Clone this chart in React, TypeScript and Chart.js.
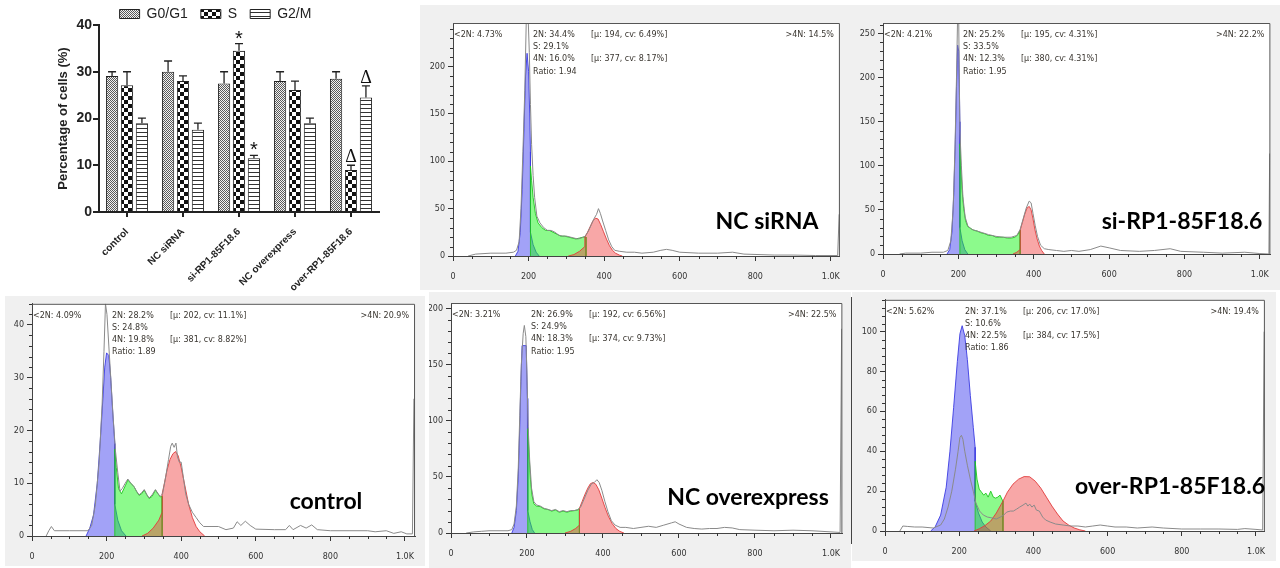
import { useEffect, useRef } from 'react';
import { Chart, registerables } from 'chart.js';

Chart.register(...registerables);

// ================= Bar chart data =================
const groupLabels = ['control', 'NC siRNA', 'si-RP1-85F18.6', 'NC overexpress', 'over-RP1-85F18.6'];
const seriesLabels = ['G0/G1', 'S', 'G2/M'];
const g0g1Values = [29.1, 30.0, 27.5, 28.0, 28.5];
const g0g1ErrTop = [30.0, 32.3, 30.0, 30.0, 30.0];
const sValues = [27.1, 28.0, 34.5, 26.1, 9.0];
const sErrTop = [30.0, 29.1, 36.0, 28.0, 10.0];
const g2mValues = [19.0, 17.6, 11.5, 19.0, 24.5];
const g2mErrTop = [20.1, 19.0, 12.1, 20.1, 27.0];
const barYMax = 40;
const barYStep = 10;
const sigGroup = [2, 2, 4, 4];
const sigSeries = [1, 2, 1, 2];
const sigText = ['*', '*', 'Δ', 'Δ'];

// ================= Histogram data ([channel, count]) =================
const histXTicks = [0, 200, 400, 600, 800, 1000];

// NC siRNA
const ncSiRaw = [[40,0],[60,2],[100,3],[140,3],[160,4],[168,6],[175,15],[180,50],[185,110],[190,175],[194,250],[198,262],[202,215],[205,160],[208,118],[212,85],[216,62],[222,42],[230,35],[240,30],[250,27],[260,27],[270,25],[280,22],[290,21],[300,21],[310,20],[320,19],[330,18],[340,19],[350,21],[358,26],[366,33],[374,40],[380,44],[385,50],[390,45],[396,37],[404,27],[412,17],[420,10],[428,6],[440,5],[460,4],[480,4],[500,3],[530,4],[550,6],[565,7],[580,6],[600,4],[650,3],[700,3],[740,4],[770,2],[850,1],[900,1],[960,0.5],[1018,0.5],[1022,44]];
const ncSiG1 = [[165,0],[172,5],[178,25],[183,70],[188,135],[192,190],[196,214],[200,195],[203,150],[205,110],[205,25],[212,12],[220,4],[228,0]];
const ncSiS = [[205,0],[205,95],[208,80],[212,62],[218,45],[225,35],[235,30],[245,27],[255,27],[265,25],[275,23],[285,21],[295,21],[305,20],[315,19],[325,18],[335,19],[345,20],[352,20],[352,0]];
const ncSiG2 = [[305,0],[320,1.5],[335,5],[349,10],[349,20],[356,25],[363,31],[370,37],[377,40],[384,39],[391,33],[398,26],[406,18],[414,11],[422,6],[430,3],[440,1],[448,0]];
const ncSiStats = ['<2N: 4.73%', '2N: 34.4%', 'S: 29.1%', '4N: 16.0%', 'Ratio: 1.94', '[µ: 194, cv: 6.49%]', '[µ: 377, cv: 8.17%]', '>4N: 14.5%'];

// si-RP1-85F18.6
const siRaw = [[44,0],[60,1],[100,1],[130,2],[160,2],[172,4],[180,15],[186,50],[191,120],[195,200],[198,270],[201,262],[204,140],[208,100],[212,65],[218,42],[225,32],[235,28],[250,26],[265,24],[280,22],[300,20],[320,19],[340,19],[355,21],[364,28],[372,40],[380,52],[388,60],[393,58],[398,46],[404,32],[410,20],[418,10],[428,6],[440,5],[460,4],[480,3],[500,4],[520,3],[550,5],[578,9],[600,7],[630,4],[680,3],[720,4],[762,6],[790,3],[850,2],[900,1],[960,2],[1000,0.5],[1024,0],[1026,114]];
const siG1 = [[170,0],[177,5],[183,25],[188,70],[192,130],[195,190],[198,237],[201,230],[204,150],[204,30],[210,15],[217,5],[225,0]];
const siS = [[204,0],[204,125],[207,95],[210,72],[214,52],[219,38],[225,31],[233,29],[240,27],[250,26],[260,24],[270,23],[280,21],[290,21],[300,19],[310,19],[320,19],[330,18],[340,18],[350,19],[358,22],[364,27],[364,0]];
const siG2 = [[345,0],[355,2],[364,5],[364,27],[370,36],[376,45],[382,52],[388,54],[393,50],[398,40],[403,28],[409,17],[415,9],[421,4],[428,0]];
const siStats = ['<2N: 4.21%', '2N: 25.2%', 'S: 33.5%', '4N: 12.3%', 'Ratio: 1.95', '[µ: 195, cv: 4.31%]', '[µ: 380, cv: 4.31%]', '>4N: 22.2%'];

// control
const ctrlRaw = [[38,0],[45,1],[52,1.8],[60,1],[100,1],[150,1],[160,2],[170,6],[180,14],[188,25],[193,35],[197,44],[201,42],[206,36],[212,29],[218,22],[224,16],[230,12],[236,8.5],[242,9],[250,10],[257,10.8],[265,10],[274,9.3],[280,8.5],[287,7.8],[294,8.2],[301,8.8],[308,7.8],[314,7.2],[322,7.8],[331,8.8],[338,8],[344,7.5],[350,8],[358,11],[366,14.5],[372,17],[376,17.6],[381,16.8],[386,17.6],[390,15],[395,14],[400,14],[406,11],[412,8],[420,6],[430,4.5],[440,3.5],[450,2.5],[460,1.8],[480,1.8],[500,1.8],[520,1.2],[540,1.5],[550,2.7],[560,2],[572,2.8],[585,2],[600,1.3],[650,1.2],[680,1.2],[690,2],[700,1.2],[720,2],[735,1.5],[750,2.1],[765,1.2],[800,1],[850,1],[900,1],[920,0.8],[950,1],[970,0.5],[990,0.8],[1005,0.4],[1020,0.4],[1024,26]];
const ctrlG1 = [[145,0],[155,1.5],[165,4],[175,10],[183,18],[190,26],[195,32],[200,34.7],[206,34.2],[211,30],[216,24],[222,17.5],[222,6],[230,3],[240,1],[252,0]];
const ctrlS = [[222,0],[222,16.5],[226,13],[232,9],[240,8],[250,9.5],[257,10.6],[265,10],[274,9.3],[280,8.5],[287,7.7],[294,8],[301,8.7],[308,7.8],[314,7.1],[322,7.5],[331,8.7],[338,8],[344,7.4],[349,7.5],[349,0]];
const ctrlG2 = [[295,0],[310,0.5],[325,1.5],[340,3],[349,4.5],[349,8],[355,10],[362,12.5],[370,14.5],[378,15.6],[385,16],[392,15.2],[400,13],[410,9.5],[420,6],[430,3.5],[440,1.8],[450,0.8],[463,0]];
const ctrlStats = ['<2N: 4.09%', '2N: 28.2%', 'S: 24.8%', '4N: 19.8%', 'Ratio: 1.89', '[µ: 202, cv: 11.1%]', '[µ: 381, cv: 8.82%]', '>4N: 20.9%'];

// NC overexpress
const ncOvRaw = [[40,0],[60,1],[80,1.5],[100,2],[150,2],[160,3],[166,8],[172,24],[177,58],[181,105],[185,150],[190,178],[193,185],[197,175],[200,140],[203,95],[207,65],[212,40],[218,28],[225,25],[235,24],[245,22],[255,21],[265,20],[275,21],[285,19],[295,20],[305,19],[315,20],[325,20],[335,21],[341,23],[350,30],[360,38],[370,44],[377,45],[384,47.5],[390,45],[397,38],[405,28],[413,19],[422,11],[432,7],[445,5],[460,5],[480,4],[500,5],[520,6],[540,5],[560,7],[580,9],[590,10],[600,8],[620,5],[640,4],[660,3.5],[680,4],[700,4],[720,5],[740,4.5],[760,3],[800,2.5],[850,2],[900,2.5],[950,2],[1000,1],[1024,0.5],[1028,182]];
const ncOvG1 = [[160,0],[166,5],[172,20],[177,50],[181,95],[184,135],[187,167],[198,167],[201,120],[202,93],[202,20],[208,10],[214,3],[220,0]];
const ncOvS = [[202,0],[202,93],[205,72],[209,48],[213,34],[218,26],[225,24],[235,23.5],[245,21.5],[255,21],[265,19.5],[275,20.5],[285,18.5],[295,19.5],[305,18.5],[315,19.5],[325,20],[333,20.5],[338,22],[338,0]];
const ncOvG2 = [[300,0],[315,1.5],[328,4],[338,7],[338,22],[345,28],[352,34],[360,40],[367,44],[374,45],[381,43.5],[389,38.5],[397,31],[405,23],[414,15],[424,8.5],[434,4],[444,1.5],[455,0]];
const ncOvStats = ['<2N: 3.21%', '2N: 26.9%', 'S: 24.9%', '4N: 18.3%', 'Ratio: 1.95', '[µ: 192, cv: 6.56%]', '[µ: 374, cv: 9.73%]', '>4N: 22.5%'];

// over-RP1-85F18.6
const overRaw = [[40,0],[48,2.5],[60,2.3],[80,2],[100,2],[130,1.5],[150,3],[160,6],[170,12],[180,20],[190,31],[197,40],[202,47],[206,48],[210,46],[215,40],[222,33],[230,26],[238,20],[245,14],[255,10],[265,8],[276,7],[290,6.5],[300,6],[311,7],[320,8],[328,9.5],[338,10],[346,10],[355,11],[363,12],[372,13],[380,14],[385,12.5],[390,13.5],[396,12],[402,13],[408,10.5],[416,10],[425,7],[433,5.5],[445,4.5],[460,3.5],[480,3],[500,2.5],[520,2.5],[540,2],[560,2.5],[580,3],[600,2.5],[620,2],[650,2],[680,1.5],[720,2],[750,1.5],[800,1],[850,1],[900,1],[950,0.8],[970,1.2],[1000,0.8],[1018,0.5],[1022,100]];
const overG1 = [[123,0],[135,2],[150,8],[165,22],[175,40],[185,62],[195,85],[202,99],[208,103],[215,98],[222,86],[230,68],[238,52],[243,42],[243,15],[252,9],[262,4.5],[272,2],[285,0]];
const overS = [[243,0],[243,35],[248,26],[254,21],[260,19.5],[266,18],[272,19],[278,17],[285,20],[292,17],[298,16.5],[304,17],[310,18],[315,16],[318,15],[318,0]];
const overG2 = [[240,0],[255,1.2],[270,2.8],[285,5],[300,9],[318,15],[330,19.5],[345,23.5],[360,26],[375,27.3],[390,27.2],[405,25],[420,21.5],[435,17],[450,12.5],[465,8.5],[480,5],[495,3],[510,1.5],[525,0.6],[540,0]];
const overStats = ['<2N: 5.62%', '2N: 37.1%', 'S: 10.6%', '4N: 22.5%', 'Ratio: 1.86', '[µ: 206, cv: 17.0%]', '[µ: 384, cv: 17.5%]', '>4N: 19.4%'];

// ================= Panel layout (positions only) =================
const panels: any[] = [
  { key: 'ncsi', name: 'NC siRNA', raw: ncSiRaw, g1: ncSiG1, s: ncSiS, g2: ncSiG2, stats: ncSiStats,
    box: [420, 5, 431, 285], dx: 0, plot: [453, 23, 844, 256], xMax: 1024, yMax: 246, yStep: 50, yMinor: 10, labelC: [767, 222] },
  { key: 'si', name: 'si-RP1-85F18.6', raw: siRaw, g1: siG1, s: siS, g2: siG2, stats: siStats,
    box: [851, 5, 429, 285], dx: 0, plot: [883, 23, 1274, 254], xMax: 1028, yMax: 262, yStep: 50, yMinor: 10, labelC: [1182, 222] },
  { key: 'ctrl', name: 'control', raw: ctrlRaw, g1: ctrlG1, s: ctrlS, g2: ctrlG2, stats: ctrlStats,
    box: [5, 296, 420, 270], dx: 0, plot: [32, 303, 423, 536], xMax: 1027, yMax: 44, yStep: 10, yMinor: 2, labelC: [326, 502] },
  { key: 'ncov', name: 'NC overexpress', raw: ncOvRaw, g1: ncOvG1, s: ncOvS, g2: ncOvG2, stats: ncOvStats,
    box: [429, 292, 422, 276], dx: -8, plot: [451, 303, 850, 533], xMax: 1030, yMax: 205, yStep: 50, yMinor: 10, labelC: [748, 498] },
  { key: 'over', name: 'over-RP1-85F18.6', raw: overRaw, g1: overG1, s: overS, g2: overG2, stats: overStats,
    box: [852, 292, 424, 269], dx: 0, plot: [885, 298, 1275, 531], xMax: 1024, yMax: 116, yStep: 20, yMinor: 4, labelC: [1170, 487] },
];

function makePattern(kind: string): any {
  const c = document.createElement('canvas');
  const ctx = c.getContext('2d')!;
  if (kind === 'fine') {
    c.width = 2; c.height = 2;
    ctx.fillStyle = '#f2f2f2'; ctx.fillRect(0, 0, 2, 2);
    ctx.fillStyle = '#5a5a5a'; ctx.fillRect(0, 0, 1, 1); ctx.fillRect(1, 1, 1, 1);
  } else if (kind === 'checker') {
    c.width = 8; c.height = 8;
    ctx.fillStyle = '#ffffff'; ctx.fillRect(0, 0, 8, 8);
    ctx.fillStyle = '#111111'; ctx.fillRect(0, 0, 4, 4); ctx.fillRect(4, 4, 4, 4);
  } else {
    c.width = 4; c.height = 4;
    ctx.fillStyle = '#ffffff'; ctx.fillRect(0, 0, 4, 4);
    ctx.fillStyle = '#333333'; ctx.fillRect(0, 0, 4, 1);
  }
  return ctx.createPattern(c, 'repeat');
}

function BarPanel() {
  const ref = useRef<HTMLCanvasElement>(null);
  useEffect(() => {
    const pats = [makePattern('fine'), makePattern('checker'), makePattern('stripe')];
    const values = [g0g1Values, sValues, g2mValues];
    const errTops = [g0g1ErrTop, sErrTop, g2mErrTop];
    const fam = 'Liberation Sans';
    const legendFit = {
      id: 'legendFit',
      afterInit(chart: any) {
        const lg = chart.legend;
        if (lg) {
          const f = lg.fit.bind(lg);
          lg.fit = () => { f(); lg.height = 31; };
        }
      },
    };
    const errBars = {
      id: 'errBars',
      afterDatasetsDraw(chart: any) {
        const ctx = chart.ctx;
        const ys = chart.scales.y;
        ctx.save();
        ctx.strokeStyle = '#222';
        ctx.lineWidth = 1.3;
        errTops.forEach((tops, di) => {
          chart.getDatasetMeta(di).data.forEach((el: any, i: number) => {
            const ye = ys.getPixelForValue(tops[i]);
            ctx.beginPath();
            ctx.moveTo(el.x, el.y);
            ctx.lineTo(el.x, ye);
            ctx.moveTo(el.x - 4, ye);
            ctx.lineTo(el.x + 4, ye);
            ctx.stroke();
          });
        });
        ctx.fillStyle = '#111';
        ctx.textAlign = 'center';
        ctx.textBaseline = 'alphabetic';
        sigText.forEach((t, k) => {
          const el = chart.getDatasetMeta(sigSeries[k]).data[sigGroup[k]];
          const ye = ys.getPixelForValue(errTops[sigSeries[k]][sigGroup[k]]);
          if (t === '*') {
            ctx.font = '20px "Liberation Sans"';
            ctx.fillText(t, el.x, ye + 1);
          } else {
            ctx.font = '18px "Liberation Serif"';
            ctx.fillText(t, el.x, ye - 3);
          }
        });
        ctx.restore();
      },
    };
    const chart = new Chart(ref.current!, {
      type: 'bar',
      data: {
        labels: groupLabels,
        datasets: seriesLabels.map((l, i) => ({
          label: l, data: values[i], backgroundColor: pats[i], borderColor: '#222', borderWidth: 1,
          categoryPercentage: 0.8, barPercentage: 0.82,
        })),
      },
      options: {
        animation: false, responsive: false, events: [], devicePixelRatio: 1,
        layout: { padding: { top: -6, left: 52, right: 61, bottom: 0 } },
        plugins: {
          legend: { position: 'top', labels: { boxWidth: 20, boxHeight: 9, padding: 13, color: '#222', font: { family: fam, size: 14 } } },
          tooltip: { enabled: false },
        },
        scales: {
          x: {
            grid: { display: true, drawOnChartArea: false, offset: false, tickLength: 5, color: '#222', lineWidth: 2 },
            border: { display: true, color: '#222', width: 2 },
            ticks: { font: { family: fam, size: 10, weight: 'bold' }, color: '#222', minRotation: 45, maxRotation: 45, autoSkip: false, padding: 9 },
            afterFit: (s: any) => { s.height = 80; },
          },
          y: {
            min: 0, max: barYMax,
            grid: { display: true, drawOnChartArea: false, tickLength: 6, color: '#222', lineWidth: 2 },
            border: { display: true, color: '#222', width: 2 },
            ticks: { stepSize: barYStep, font: { family: fam, size: 14, weight: 'bold' }, color: '#222', padding: 1 },
            title: { display: true, text: 'Percentage of cells (%)', color: '#222', font: { family: fam, size: 13, weight: 'bold' } },
            afterFit: (s: any) => { s.width = 47; },
          },
        },
      } as any,
      plugins: [legendFit, errBars],
    } as any);
    return () => chart.destroy();
  }, []);
  return <canvas ref={ref} width={440} height={292} style={{ position: 'absolute', left: 0, top: 0 }} />;
}

function HistPanel({ p }: { p: any }) {
  const ref = useRef<HTMLCanvasElement>(null);
  const canvasLeft = p.box[0] + p.dx;
  const canvasW = p.box[2] - p.dx;
  const canvasH = p.box[3];
  useEffect(() => {
    const [L, T, R, B] = p.plot;
    const yAxisW = L - canvasLeft;
    const padTop = T - p.box[1];
    const padRight = canvasLeft + canvasW - R;
    const xAxisH = p.box[1] + p.box[3] - B;
    const pts = (a: number[][]) => a.map(([x, y]) => ({ x, y }));
    const tickFont = { family: 'DejaVu Sans', size: 8 };
    const deco = {
      id: 'deco',
      beforeDraw(chart: any) {
        const { ctx, chartArea: a } = chart;
        ctx.save();
        ctx.fillStyle = '#ffffff';
        ctx.fillRect(a.left, a.top, a.right - a.left, a.bottom - a.top);
        ctx.restore();
      },
      afterDraw(chart: any) {
        const { ctx, chartArea: a, scales } = chart;
        const xs = scales.x, ys = scales.y;
        ctx.save();
        ctx.strokeStyle = '#555';
        ctx.lineWidth = 1;
        ctx.beginPath();
        ctx.moveTo(a.left, a.top + 0.5);
        ctx.lineTo(a.right - 0.5, a.top + 0.5);
        ctx.lineTo(a.right - 0.5, a.bottom);
        ctx.stroke();
        ctx.strokeStyle = '#333';
        ctx.beginPath();
        for (let v = 0; v <= p.xMax; v += 50) {
          if (v % 200 === 0) continue;
          const px = Math.round(xs.getPixelForValue(v)) + 0.5;
          ctx.moveTo(px, a.bottom);
          ctx.lineTo(px, a.bottom + 3);
        }
        for (let v = 0; v <= p.yMax; v += p.yMinor) {
          if (v % p.yStep === 0) continue;
          const py = Math.round(ys.getPixelForValue(v)) + 0.5;
          ctx.moveTo(a.left - 3, py);
          ctx.lineTo(a.left, py);
        }
        ctx.stroke();
        // statistics text
        const st = p.stats;
        ctx.font = '8px "DejaVu Sans"';
        ctx.fillStyle = '#3a3630';
        ctx.textBaseline = 'middle';
        ctx.textAlign = 'left';
        const y0 = a.top + 12;
        const dy = 12.2;
        ctx.fillText(st[0], a.left + 1, y0);
        for (let i = 0; i < 4; i++) ctx.fillText(st[1 + i], a.left + 80, y0 + i * dy);
        ctx.fillText(st[5], a.left + 138, y0);
        ctx.fillText(st[6], a.left + 138, y0 + 2 * dy);
        ctx.textAlign = 'right';
        ctx.fillText(st[7], a.right - 6, y0);
        // sample name
        ctx.font = 'bold 23px Lato';
        ctx.fillStyle = '#000';
        ctx.textAlign = 'center';
        ctx.fillText(p.name, p.labelC[0] - canvasLeft, p.labelC[1] - p.box[1]);
        ctx.restore();
      },
    };
    const chart = new Chart(ref.current!, {
      type: 'line',
      data: {
        datasets: [
          { label: 'raw', data: pts(p.raw), borderColor: '#8a8a8a', borderWidth: 1, pointRadius: 0, fill: false, order: 0 },
          { label: 'G2', data: pts(p.g2), borderColor: 'rgba(225,60,60,0.9)', backgroundColor: 'rgba(240,60,60,0.45)', borderWidth: 1, pointRadius: 0, fill: 'origin', order: 1 },
          { label: 'S', data: pts(p.s), borderColor: 'rgba(30,200,30,0.9)', backgroundColor: 'rgba(25,245,25,0.5)', borderWidth: 1, pointRadius: 0, fill: 'origin', order: 2 },
          { label: 'G1', data: pts(p.g1), borderColor: 'rgba(60,60,225,0.9)', backgroundColor: 'rgba(85,85,240,0.55)', borderWidth: 1, pointRadius: 0, fill: 'origin', order: 3 },
        ],
      },
      options: {
        animation: false, responsive: false, events: [], devicePixelRatio: 1,
        layout: { padding: { top: padTop, right: padRight, left: 0, bottom: 0 } },
        plugins: { legend: { display: false }, tooltip: { enabled: false } },
        elements: { line: { tension: 0 } },
        scales: {
          x: {
            type: 'linear', min: 0, max: p.xMax,
            grid: { display: true, drawOnChartArea: false, tickLength: 5, color: '#333' },
            border: { display: true, color: '#444' },
            afterBuildTicks: (s: any) => { s.ticks = histXTicks.map((v) => ({ value: v })); },
            ticks: { autoSkip: false, maxRotation: 0, font: tickFont, color: '#333', padding: 11,
              callback: (v: any) => (v === 1000 ? '1.0K' : String(v)) },
            afterFit: (s: any) => { s.height = xAxisH; },
          },
          y: {
            min: 0, max: p.yMax,
            grid: { display: true, drawOnChartArea: false, tickLength: 5, color: '#333' },
            border: { display: true, color: '#444' },
            afterBuildTicks: (s: any) => {
              const t: any[] = [];
              for (let v = 0; v <= p.yMax; v += p.yStep) t.push({ value: v });
              s.ticks = t;
            },
            ticks: { autoSkip: false, font: tickFont, color: '#333', padding: 3, callback: (v: any) => String(v) },
            afterFit: (s: any) => { s.width = yAxisW; },
          },
        },
      } as any,
      plugins: [deco],
    } as any);
    return () => chart.destroy();
  }, []);
  return (
    <div style={{ position: 'absolute', left: p.box[0], top: p.box[1], width: p.box[2], height: p.box[3], overflow: 'hidden', background: '#f0f0f0' }}>
      <canvas ref={ref} width={canvasW} height={canvasH} style={{ position: 'absolute', left: p.dx, top: 0, display: 'block' }} />
    </div>
  );
}

export default function App() {
  return (
    <div style={{ position: 'fixed', left: 0, top: 0, width: 1280, height: 568, background: '#ffffff', overflow: 'hidden' }}>
      <BarPanel />
      {panels.map((p) => <HistPanel key={p.key} p={p} />)}
      <div style={{ position: 'absolute', left: 851, top: 297, width: 1, height: 247, background: '#444' }} />
    </div>
  );
}
